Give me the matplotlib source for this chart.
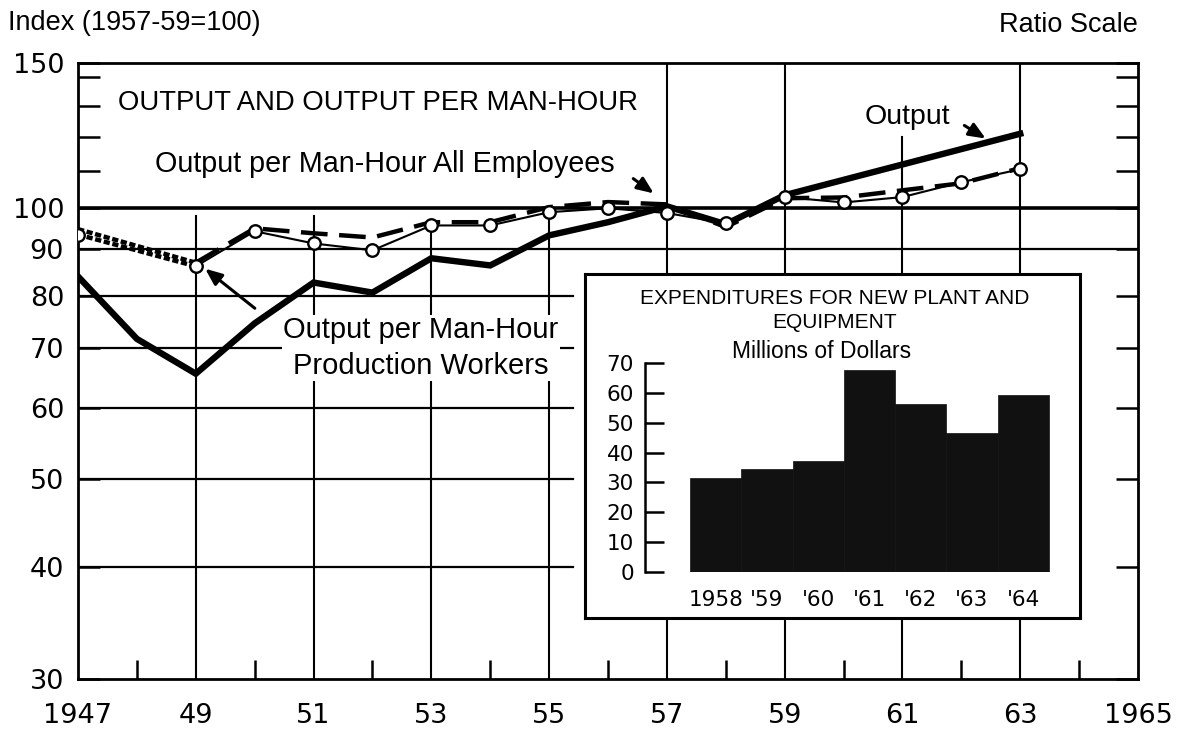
import matplotlib
matplotlib.use("Agg")
import matplotlib.pyplot as plt
from matplotlib.ticker import FixedLocator, NullFormatter

# ---------------- data ----------------
output_years = [1947, 1948, 1949, 1950, 1951, 1952, 1953, 1954, 1955, 1956, 1957, 1958, 1959, 1963]
output_index = [84.0, 71.6, 65.5, 74.5, 82.7, 80.6, 88.0, 86.4, 93.3, 96.5, 100.5, 96.0, 103.4, 121.0]

prod_years = [1947, 1949, 1950, 1951, 1952, 1953, 1954, 1955, 1956, 1957, 1958, 1959, 1960, 1961, 1962, 1963]
prod_index = [93.5, 86.2, 94.3, 91.4, 89.8, 95.7, 95.7, 99.0, 100.0, 98.8, 96.2, 102.9, 101.5, 102.9, 106.9, 110.5]

all_years = [1947, 1949, 1950, 1951, 1952, 1953, 1954, 1955, 1956, 1957, 1958, 1959, 1960, 1961, 1962, 1963]
all_index = [94.8, 87.0, 95.0, 93.8, 92.8, 96.5, 96.5, 100.3, 101.6, 101.0, 95.3, 102.6, 102.8, 104.7, 106.6, 110.8]

bar_labels = ["1958", "'59", "'60", "'61", "'62", "'63", "'64"]
bar_values = [31.5, 34.4, 37.2, 67.6, 56.3, 46.7, 59.3]

y_major = [30, 40, 50, 60, 70, 80, 90, 100]
y_minor = [110, 120, 130, 140]
x_label_years = [1947, 1949, 1951, 1953, 1955, 1957, 1959, 1961, 1963, 1965]
x_labels = ["1947", "49", "51", "53", "55", "57", "59", "61", "63", "1965"]
x_minor_years = [1948, 1950, 1952, 1954, 1956, 1958, 1960, 1962, 1964]
inset_yticks = [0, 10, 20, 30, 40, 50, 60, 70]

# ---------------- style ----------------
NUMF = "DejaVu Sans"
TXTF = "Liberation Sans"
Y_TOP = 145

fig = plt.figure(figsize=(11.84, 7.29), dpi=100)
fig.patch.set_facecolor("white")
ax = fig.add_axes([78 / 1184, 1 - 679 / 729, (1138 - 78) / 1184, (679 - 63) / 729])
ax.set_yscale("log")
ax.set_xlim(1947, 1965)
ax.set_ylim(30, Y_TOP)

for s in ax.spines.values():
    s.set_linewidth(2)

# y ticks
ax.yaxis.set_major_locator(FixedLocator(y_major + [Y_TOP]))
ax.yaxis.set_minor_locator(FixedLocator(y_minor))
ax.yaxis.set_minor_formatter(NullFormatter())
ax.set_yticklabels([str(v) for v in y_major] + ["150"], fontfamily=NUMF, fontsize=19.5)
ax.tick_params(axis="y", which="both", direction="in", length=16, width=1.8,
               left=True, right=True, pad=10)
# x ticks
ax.set_xticks(x_label_years)
ax.set_xticklabels(x_labels, fontfamily=NUMF, fontsize=19.5)
ax.xaxis.set_minor_locator(FixedLocator(x_minor_years))
ax.tick_params(axis="x", which="major", length=0, pad=17)
ax.tick_params(axis="x", which="minor", direction="in", length=14, width=1.8, bottom=True, top=False)

# grid: horizontal
for v in y_major[1:-1]:
    if v == 90:
        ax.plot([1947, 1965], [v, v], color="black", lw=1.6, zorder=1)
    else:
        ax.plot([1947, 1955.4], [v, v], color="black", lw=1.6, zorder=1)
ax.axhline(100, color="black", lw=2.6, zorder=1)

# grid: vertical (top extent varies as in the original drawing)
vtops = {1949: 98, 1951: 98, 1953: 96, 1955: 99, 1957: Y_TOP, 1959: Y_TOP, 1961: 120, 1963: Y_TOP}
for yr, top in vtops.items():
    ax.plot([yr, yr], [30, top], color="black", lw=1.5, zorder=1)

# ---------------- series ----------------
# 1947-49 dotted double line segments
ax.plot(all_years[:2], all_index[:2], color="black", lw=3.2, ls=(0, (1.4, 0.6)), zorder=3)
ax.plot(prod_years[:2], prod_index[:2], color="black", lw=3.2, ls=(0, (1.4, 0.6)), zorder=3)
# All employees (dashed)
ax.plot(all_years[1:], all_index[1:], color="black", lw=3.2, ls=(0, (6, 2.6)), zorder=3)
# Production workers (thin line with circles)
ax.plot(prod_years[1:], prod_index[1:], color="black", lw=1.5, zorder=4)
ax.plot(prod_years, prod_index, ls="none", marker="o", ms=9, mfc="white", mec="black", mew=1.7, zorder=5)
# Output (thick solid)
ax.plot(output_years, output_index, color="black", lw=4.6, solid_joinstyle="miter", zorder=4)

# ---------------- texts ----------------
bb = dict(facecolor="white", edgecolor="none", pad=1)
fig.text(8 / 1184, 1 - 23 / 729, "Index (1957-59=100)", fontfamily=TXTF, fontsize=19.5, va="center", ha="left")
fig.text(1138 / 1184, 1 - 25 / 729, "Ratio Scale", fontfamily=TXTF, fontsize=19.5, va="center", ha="right")
fig.text(118 / 1184, 1 - 103 / 729, "OUTPUT AND OUTPUT PER MAN-HOUR", fontfamily=TXTF, fontsize=19.8,
         va="center", ha="left")
fig.text(155 / 1184, 1 - 164 / 729, "Output per Man-Hour All Employees", fontfamily=TXTF, fontsize=20.7,
         va="center", ha="left")
fig.text(865 / 1184, 1 - 117 / 729, "Output", fontfamily=TXTF, fontsize=20.5, va="center", ha="left")
fig.text(421 / 1184, 1 - 348 / 729, "Output per Man-Hour\nProduction Workers", fontfamily=TXTF,
         fontsize=21, va="center", ha="center", linespacing=1.35, bbox=bb, zorder=2)

# arrows (figure-pixel anchored)
def farrow(x0, y0, x1, y1):
    fig.add_artist(matplotlib.patches.FancyArrowPatch(
        (x0 / 1184, 1 - y0 / 729), (x1 / 1184, 1 - y1 / 729), transform=fig.transFigure,
        arrowstyle="-|>,head_length=10,head_width=4.2", lw=2.2, color="black", zorder=10))

farrow(962, 124, 988, 140)
farrow(631, 177, 656, 195)
farrow(257, 310, 203, 267)

# ---------------- inset ----------------
box = fig.add_axes([585 / 1184, 1 - 618 / 729, (1080 - 585) / 1184, (618 - 274) / 729])
box.set_xticks([]); box.set_yticks([])
box.set_facecolor("white")
for s in box.spines.values():
    s.set_linewidth(2.2)
box.text((835 - 585) / 495, 1 - 25 / 344, "EXPENDITURES FOR NEW PLANT AND", transform=box.transAxes,
         fontfamily=TXTF, fontsize=15, ha="center", va="center")
box.text((835 - 585) / 495, 1 - 49 / 344, "EQUIPMENT", transform=box.transAxes,
         fontfamily=TXTF, fontsize=15, ha="center", va="center")
box.text((822 - 585) / 495, 1 - 78 / 344, "Millions of Dollars", transform=box.transAxes,
         fontfamily=TXTF, fontsize=16.5, ha="center", va="center")

bx = fig.add_axes([645 / 1184, 1 - 572 / 729, (1055 - 645) / 1184, (572 - 363) / 729])
bx.patch.set_alpha(0)
xpos = list(range(len(bar_values)))
bx.bar(xpos, bar_values, width=1.0, color="#111111", edgecolor="#111111", lw=0.5)
bx.set_xlim(-1.38, 6.62)
bx.set_ylim(0, 70)
for k in ["top", "right", "bottom"]:
    bx.spines[k].set_visible(False)
bx.spines["left"].set_linewidth(1.8)
bx.set_yticks(inset_yticks)
bx.set_yticklabels([str(v) for v in inset_yticks], fontfamily=NUMF, fontsize=15.5)
bx.tick_params(axis="y", direction="in", length=14, width=1.8, pad=8)
bx.set_xticks(xpos)
bx.set_xticklabels(bar_labels, fontfamily=NUMF, fontsize=15.5)
bx.tick_params(axis="x", length=0, pad=13)

fig.savefig("out.png", dpi=100, facecolor="white")
